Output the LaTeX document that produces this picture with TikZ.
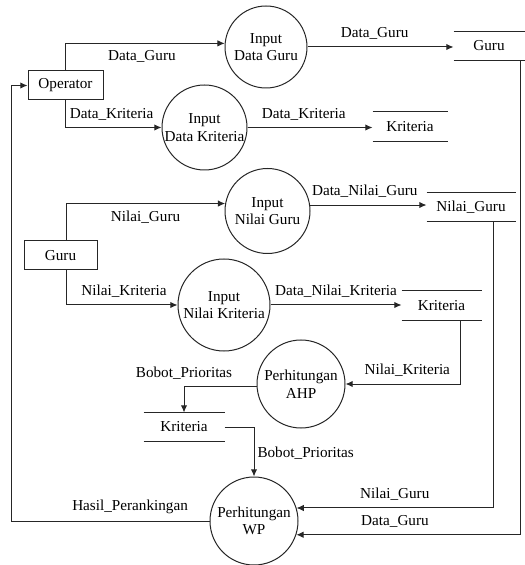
\documentclass[tikz,border=0pt]{standalone}
\usepackage{fontspec}
\setmainfont{Liberation Serif}
\usetikzlibrary{arrows.meta}

\tikzset{
  proc/.style={circle, draw, align=center, minimum size=43pt, inner sep=0pt},
  ent/.style={draw, minimum width=37pt, minimum height=14.5pt, inner sep=0pt},
  store/.style={minimum height=14pt, inner sep=0pt},
  flow/.style={-{Latex[length=3.6pt,width=3.2pt]}},
}

\begin{document}
\begin{tikzpicture}[x=0.5pt,y=-0.5pt, black!85, line width=0.5pt,
  every node/.style={font=\rmfamily\fontsize{7.6}{8.8}\selectfont, text=black}]
\useasboundingbox (0,0) rectangle (524,565);

\node[ent, minimum width=37.5pt] (op) at (65.5,85.5) {Operator};
\node[ent, minimum width=36.5pt] (gr) at (60.5,255.5) {Guru};
\coordinate (back) at (11,0);

\node[proc, minimum size=41pt] (pDG) at (266,47) {Input\\Data Guru};
\node[proc, minimum size=42.5pt] (pDK) at (204.5,127.5) {Input\\Data Kriteria};
\node[proc, minimum size=42.5pt] (pNG) at (267.5,211) {Input\\Nilai Guru};
\node[proc, minimum size=46pt] (pNK) at (224,305) {Input\\Nilai Kriteria};
\node[proc, minimum size=44pt] (pAHP) at (301,384) {Perhitungan\\AHP};
\node[proc, minimum size=44pt] (pWP) at (254,521) {Perhitungan\\WP};

\node[store, minimum width=35pt] (sGuru) at (489,46) {Guru};
\node[store, minimum width=37pt, minimum height=14.5pt] (sKritA) at (410,126.5) {Kriteria};
\node[store, minimum width=44pt] (sNilai) at (471,207) {Nilai\_Guru};
\node[store, minimum width=39.5pt, minimum height=14.5pt] (sKritB) at (441.5,305.5) {Kriteria};
\node[store, minimum width=40pt] (sKritC) at (184,427) {Kriteria};
\foreach \s in {sGuru,sKritA,sNilai,sKritB,sKritC}
  \draw (\s.north west) -- (\s.north east) (\s.south west) -- (\s.south east);

\draw[flow] (op.north) |- node[below,pos=0.74] {Data\_Guru} (pDG.175);
\draw[flow] (op.south) |- node[above,pos=0.74] {Data\_Kriteria} (pDK);
\draw[flow] (pDG.east) -- node[above,pos=0.46] {Data\_Guru} (pDG.east -| sGuru.west);
\draw[flow] (pDK.east) -- node[above,pos=0.45] {Data\_Kriteria} (pDK.east -| sKritA.west);

\draw[flow] ([xshift=2.75pt]gr.north) |- node[below,pos=0.75] {Nilai\_Guru} (pNG.170);
\draw[flow] ([xshift=2.75pt]gr.south) |- node[above,pos=0.76] {Nilai\_Kriteria} (pNK);
\draw[flow] (pNG.8) -- node[above,pos=0.47] {Data\_Nilai\_Guru} (pNG.8 -| sNilai.west);
\draw[flow] (pNK.east) -- node[above,midway] {Data\_Nilai\_Kriteria} (pNK.east -| sKritB.west);

\draw[flow] ([xshift=9.25pt]sKritB.south) |- node[above,pos=0.73] {Nilai\_Kriteria} (pAHP.east);
\draw[flow] (pAHP.183) -| node[above,pos=0.5] {Bobot\_Prioritas} (sKritC.north);
\draw[flow] (sKritC.east) -| node[right,pos=0.76,inner sep=1.5pt] {Bobot\_Prioritas} (pWP.north);
\draw[flow] ([xshift=11pt]sNilai.south) |- node[above,pos=0.75] {Nilai\_Guru} (pWP.17);
\draw[flow] ([xshift=-2pt]sGuru.south east) |- node[above,pos=0.78] {Data\_Guru} (pWP.-18);
\draw[flow] (pWP.west) -- node[above,pos=0.4] {Hasil\_Perankingan} (pWP.west -| back) |- (op.west);
\end{tikzpicture}
\end{document}
